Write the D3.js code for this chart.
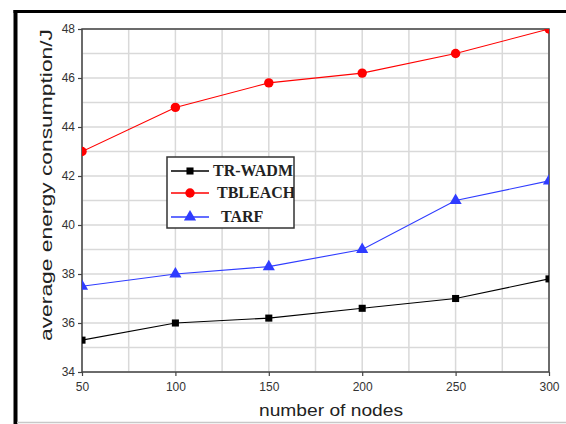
<!DOCTYPE html>
<html><head><meta charset="utf-8">
<script src="https://cdn.jsdelivr.net/npm/d3@7"></script>
<style>body{margin:0;background:#fff;}svg{display:block;}</style>
</head><body>
<svg id="chart" width="566" height="424"></svg>
<script>
const nodes = [50, 100, 150, 200, 250, 300];
const trwadm = [35.3, 36.0, 36.2, 36.6, 37.0, 37.8];
const tbleach = [43.0, 44.8, 45.8, 46.2, 47.0, 48.0];
const tarf = [37.5, 38.0, 38.3, 39.0, 41.0, 41.8];
const xTicks = [50, 100, 150, 200, 250, 300];
const yTicks = [34, 36, 38, 40, 42, 44, 46, 48];
const xMinor = [75, 125, 175, 225, 275];
const yMinor = [35, 37, 39, 41, 43, 45, 47];
const seriesNames = ["TR-WADM", "TBLEACH", "TARF"];
const seriesColors = ["#000000", "#ff0000", "#2f3cff"];
const seriesShapes = [d3.symbolSquare, d3.symbolCircle, d3.symbolTriangle];
const seriesData = [trwadm, tbleach, tarf];

const svg = d3.select("#chart");
const L = 82, R = 549, T = 29, B = 372;
const x = d3.scaleLinear().domain([50, 300]).range([L, R]);
const y = d3.scaleLinear().domain([34, 48]).range([B, T]);

// outer frame
svg.append("line").attr("x1", 15.5).attr("x2", 15.5).attr("y1", 10).attr("y2", 424).attr("stroke", "#000").attr("stroke-width", 4);
svg.append("line").attr("x1", 13.5).attr("x2", 566).attr("y1", 11.5).attr("y2", 11.5).attr("stroke", "#000").attr("stroke-width", 3);
svg.append("line").attr("x1", 17).attr("x2", 566).attr("y1", 422.5).attr("y2", 422.5).attr("stroke", "#c8c8c8").attr("stroke-width", 1.5);

// grid
const grid = svg.append("g").attr("stroke", "#d9d9d9").attr("stroke-width", 1.5);
xTicks.concat(xMinor).forEach(v => grid.append("line").attr("x1", x(v)).attr("x2", x(v)).attr("y1", T).attr("y2", B));
yTicks.concat(yMinor).forEach(v => grid.append("line").attr("y1", y(v)).attr("y2", y(v)).attr("x1", L).attr("x2", R));

// axes
const xAxis = svg.append("g").attr("transform", `translate(0,${B})`)
  .call(d3.axisBottom(x).tickValues(xTicks).tickSize(4).tickSizeOuter(0).tickPadding(6));
const yAxis = svg.append("g").attr("transform", `translate(${L},0)`)
  .call(d3.axisLeft(y).tickValues(yTicks).tickSize(4).tickSizeOuter(0).tickPadding(3));
[xAxis, yAxis].forEach(a => {
  a.select(".domain").remove();
  a.selectAll("line").attr("stroke", "#444").attr("stroke-width", 1.2);
  a.selectAll("text").attr("font-family", "Arial, 'Liberation Sans', sans-serif").attr("font-size", 12).attr("fill", "#333");
});
xAxis.selectAll("text").attr("dy", "0.75em");

// plot border
svg.append("rect").attr("x", L).attr("y", T).attr("width", R - L).attr("height", B - T)
  .attr("fill", "none").attr("stroke", "#444").attr("stroke-width", 1.5);

// clip
svg.append("defs").append("clipPath").attr("id", "clip").append("rect")
  .attr("x", L).attr("y", T).attr("width", R - L).attr("height", B - T);
const plot = svg.append("g").attr("clip-path", "url(#clip)");

const line = d3.line().x((d, i) => x(nodes[i])).y(d => y(d));
const sizes = [50, 70, 64];
seriesData.forEach((data, si) => {
  plot.append("path").datum(data).attr("d", line).attr("fill", "none")
    .attr("stroke", seriesColors[si]).attr("stroke-width", 1.1);
  plot.selectAll(null).data(data).enter().append("path")
    .attr("d", d3.symbol().type(seriesShapes[si]).size(sizes[si]))
    .attr("transform", (d, i) => `translate(${x(nodes[i])},${y(d)})`)
    .attr("fill", seriesColors[si]);
});

// axis titles
svg.append("text").attr("x", 331).attr("y", 416).attr("text-anchor", "middle")
  .attr("font-family", "Arial, 'Liberation Sans', sans-serif").attr("font-size", 16).attr("fill", "#222")
  .attr("textLength", 144).attr("lengthAdjust", "spacingAndGlyphs")
  .text("number of nodes");
svg.append("text").attr("transform", `translate(52,185) rotate(-90)`).attr("text-anchor", "middle")
  .attr("font-family", "Arial, 'Liberation Sans', sans-serif").attr("font-size", 16).attr("fill", "#222")
  .attr("textLength", 312).attr("lengthAdjust", "spacingAndGlyphs")
  .text("average energy consumption/J");

// legend
const lg = svg.append("g");
lg.append("defs").append("clipPath").attr("id", "lclip").append("rect")
  .attr("x", 167).attr("y", 157).attr("width", 127).attr("height", 71);
lg.append("rect").attr("x", 167).attr("y", 157).attr("width", 127).attr("height", 71)
  .attr("fill", "#fff").attr("stroke", "#333").attr("stroke-width", 1.5);
const ly = [171, 193, 217];
const lx = [213, 217, 221];
const lgi = lg.append("g").attr("clip-path", "url(#lclip)");
seriesNames.forEach((n, i) => {
  lgi.append("line").attr("x1", 171).attr("x2", 209).attr("y1", ly[i]).attr("y2", ly[i])
    .attr("stroke", seriesColors[i]).attr("stroke-width", 1.3);
  lgi.append("path").attr("d", d3.symbol().type(seriesShapes[i]).size(sizes[i]))
    .attr("transform", `translate(190,${ly[i]})`).attr("fill", seriesColors[i]);
  lgi.append("text").attr("x", lx[i]).attr("y", ly[i] + 5)
    .attr("font-family", "'Liberation Serif', 'Times New Roman', serif").attr("font-weight", "bold")
    .attr("font-size", 16).attr("fill", "#222").text(n);
});
</script>
</body></html>
